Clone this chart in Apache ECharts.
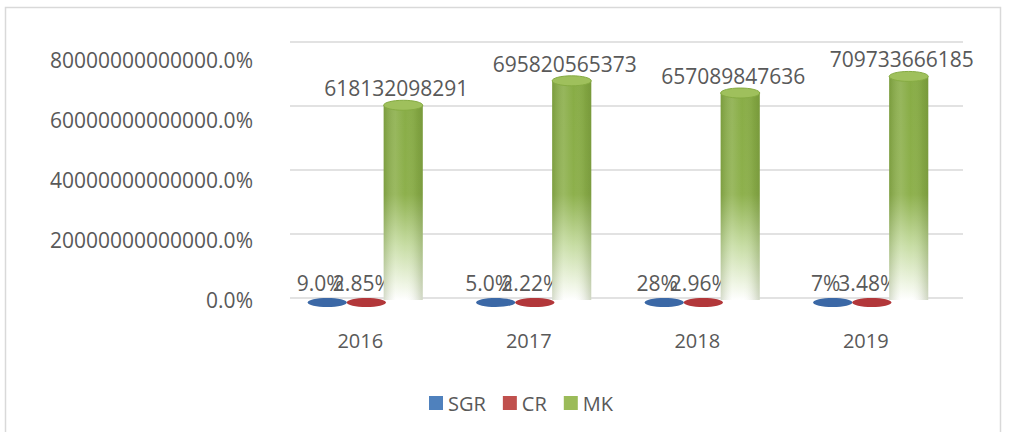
<!DOCTYPE html>
<html>
<head>
<meta charset="utf-8">
<script src="https://cdn.jsdelivr.net/npm/echarts@6/dist/echarts.min.js"></script>
<style>
html,body{margin:0;padding:0;background:#fff;}
#chart{width:1009px;height:432px;}
</style>
</head>
<body>
<div id="chart"></div>
<script>
// ---- data ----
const years = ['2016', '2017', '2018', '2019'];
const sgrValues = [0.09, 0.05, 0.28, 0.07];
const sgrLabels = ['9.0%', '5.0%', '28%', '7%'];
const crValues = [0.0285, 0.0222, 0.0296, 0.0348];
const crLabels = ['2.85%', '2.22%', '2.96%', '3.48%'];
const mkValues = [618132098291, 695820565373, 657089847636, 709733666185];
const seriesNames = ['SGR', 'CR', 'MK'];
const yMax = 800000000000;
const yInterval = 200000000000;

const FONT = '"Open Sans", "Noto Sans", sans-serif';
const TXT = '#595959';
const LEGEND_COLORS = ['#4F81BD', '#C0504D', '#9BBB59'];

function flatRender(offset, width, fill, labels, labelShift) {
  return function (params, api) {
    const i = api.value(0);
    const base = api.coord([i, 0]);
    const band = api.size([1, 0])[0];
    const cx = base[0] + band * offset;
    const rx = band * width / 2;
    return {
      type: 'group',
      children: [
        { type: 'ellipse', shape: { cx: cx, cy: base[1] + 2.5, rx: rx, ry: 4.5 },
          style: { fill: fill } },
        { type: 'text', style: { text: labels[params.dataIndex], x: cx + labelShift, y: base[1] - 17,
          align: 'center', verticalAlign: 'middle', fontSize: 21, fontFamily: FONT, fill: TXT } }
      ]
    };
  };
}

function cylRender(params, api) {
  const i = api.value(0);
  const v = api.value(1);
  const base = api.coord([i, 0]);
  const top = api.coord([i, v]);
  const band = api.size([1, 0])[0];
  const cx = base[0] + band * 0.255;
  const rx = band * 0.232 / 2;
  const vGrad = new echarts.graphic.LinearGradient(0, 48, 0, 300, [
    { offset: 0, color: '#86AB43' },
    { offset: 0.58, color: '#8DB04C' },
    { offset: 0.78, color: '#c6dca2' },
    { offset: 0.95, color: '#f2f7e9' },
    { offset: 1, color: '#ffffff' }
  ], true);
  const hGrad = new echarts.graphic.LinearGradient(0, 0, 1, 0, [
    { offset: 0, color: 'rgba(70,95,25,0.22)' },
    { offset: 0.3, color: 'rgba(255,255,255,0.12)' },
    { offset: 0.55, color: 'rgba(255,255,255,0)' },
    { offset: 0.85, color: 'rgba(70,95,25,0.12)' },
    { offset: 1, color: 'rgba(70,95,25,0.25)' }
  ]);
  return {
    type: 'group',
    children: [
      { type: 'rect', shape: { x: cx - rx, y: top[1], width: rx * 2, height: base[1] - top[1] },
        style: { fill: vGrad } },
      { type: 'rect', shape: { x: cx - rx, y: top[1], width: rx * 2, height: base[1] - top[1] },
        style: { fill: hGrad } },
      { type: 'ellipse', shape: { cx: cx, cy: top[1], rx: rx, ry: 5 },
        style: { fill: '#9fc05c', stroke: '#86AB43', lineWidth: 1 } },
      { type: 'text', style: { text: String(mkValues[params.dataIndex]), x: cx - 7, y: top[1] - 17,
        align: 'center', verticalAlign: 'middle', fontSize: 21, fontFamily: FONT, fill: TXT } }
    ]
  };
}

const chart = echarts.init(document.getElementById('chart'), null, { renderer: 'svg' });
chart.setOption({
  animation: false,
  color: LEGEND_COLORS,
  graphic: [{
    type: 'rect', shape: { x: 5.5, y: 7.5, width: 995, height: 440 },
    style: { fill: 'none', stroke: '#d9d9d9', lineWidth: 1.5 }, silent: true
  }],
  legend: {
    data: seriesNames.map(n => ({ name: n, icon: 'rect', itemStyle: { borderWidth: 0, borderRadius: 0 } })),
    left: 424, top: 388,
    icon: 'rect', itemWidth: 14, itemHeight: 14, itemGap: 17,
    itemStyle: { borderWidth: 0, borderRadius: 0 },
    textStyle: { fontSize: 20, fontFamily: FONT, color: TXT }
  },
  grid: [
    { left: 276, right: 59, top: 48, bottom: 132 },   // data
    { left: 290, right: 46, top: 42, bottom: 134 },   // back wall grid lines
    { left: 276, right: 59, top: 60, bottom: 132 }    // front labels
  ],
  xAxis: [
    { type: 'category', data: years, gridIndex: 0, show: false },
    { type: 'category', data: years, gridIndex: 1, show: false },
    { type: 'category', data: years, gridIndex: 2,
      axisLine: { show: false }, axisTick: { show: false },
      axisLabel: { fontSize: 20, fontFamily: FONT, color: TXT, margin: 30 } }
  ],
  yAxis: [
    { type: 'value', gridIndex: 0, min: 0, max: yMax, interval: yInterval, show: false },
    { type: 'value', gridIndex: 1, min: 0, max: yMax, interval: yInterval,
      axisLabel: { show: false }, axisLine: { show: false }, axisTick: { show: false },
      splitLine: { lineStyle: { color: '#e2e2e2', width: 2 } } },
    { type: 'value', gridIndex: 2, min: 0, max: yMax, interval: yInterval,
      axisLine: { show: false }, axisTick: { show: false }, splitLine: { show: false },
      axisLabel: { fontSize: 21, fontFamily: FONT, color: TXT, margin: 23,
        formatter: v => (v * 100).toFixed(1) + '%' } }
  ],
  series: [
    { name: 'SGR', type: 'custom', xAxisIndex: 0, yAxisIndex: 0, clip: false,
      itemStyle: { color: LEGEND_COLORS[0] },
      renderItem: flatRender(-0.196, 0.232, '#3B68A6', sgrLabels, -7),
      data: sgrValues.map((v, i) => [i, v]) },
    { name: 'CR', type: 'custom', xAxisIndex: 0, yAxisIndex: 0, clip: false,
      itemStyle: { color: LEGEND_COLORS[1] },
      renderItem: flatRender(0.036, 0.232, '#B2373A', crLabels, -4),
      data: crValues.map((v, i) => [i, v]) },
    { name: 'MK', type: 'custom', xAxisIndex: 0, yAxisIndex: 0, clip: false,
      itemStyle: { color: LEGEND_COLORS[2] },
      renderItem: cylRender,
      data: mkValues.map((v, i) => [i, v]) }
  ]
});
</script>
</body>
</html>
